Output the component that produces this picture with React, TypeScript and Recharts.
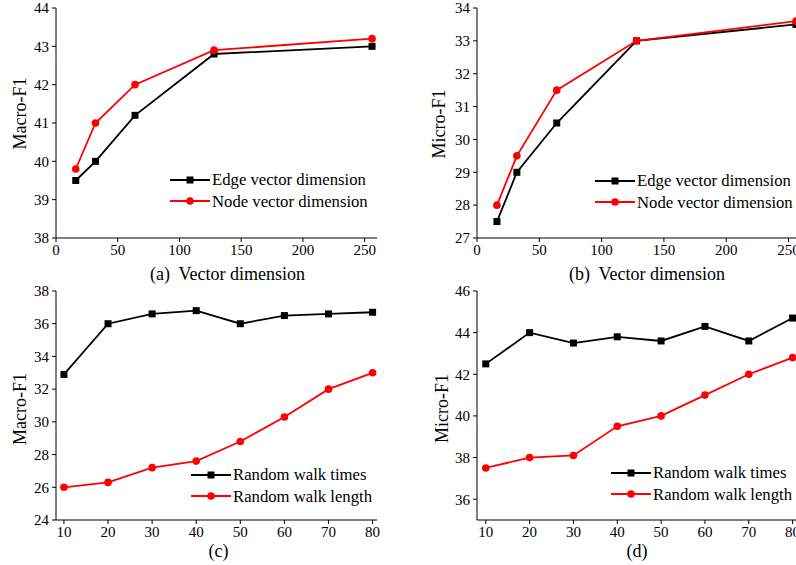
import React from 'react';
import { LineChart, Line, XAxis, YAxis, Legend } from 'recharts';

// vector dimension panels (a), (b)
const DIM_X = [16, 32, 64, 128, 256];
const EDGE_MACRO = [39.5, 40.0, 41.2, 42.8, 43.0];
const NODE_MACRO = [39.8, 41.0, 42.0, 42.9, 43.2];
const EDGE_MICRO = [27.5, 29.0, 30.5, 33.0, 33.5];
const NODE_MICRO = [28.0, 29.5, 31.5, 33.0, 33.6];

// random walk panels (c), (d)
const WALK_X = [10, 20, 30, 40, 50, 60, 70, 80];
const TIMES_MACRO = [32.9, 36.0, 36.6, 36.8, 36.0, 36.5, 36.6, 36.7];
const LENGTH_MACRO = [26.0, 26.3, 27.2, 27.6, 28.8, 30.3, 32.0, 33.0];
const TIMES_MICRO = [42.5, 44.0, 43.5, 43.8, 43.6, 44.3, 43.6, 44.7];
const LENGTH_MICRO = [37.5, 38.0, 38.1, 39.5, 40.0, 41.0, 42.0, 42.8];

// ticks
const DIM_TICKS = [0, 50, 100, 150, 200, 250];
const DIM_MINOR = [25, 75, 125, 175, 225];
const WALK_TICKS = [10, 20, 30, 40, 50, 60, 70, 80];
const WALK_MINOR = [15, 25, 35, 45, 55, 65, 75];
const A_TICKS = [38, 39, 40, 41, 42, 43, 44];
const A_MINOR = [38.5, 39.5, 40.5, 41.5, 42.5, 43.5];
const B_TICKS = [27, 28, 29, 30, 31, 32, 33, 34];
const B_MINOR = [27.5, 28.5, 29.5, 30.5, 31.5, 32.5, 33.5];
const C_TICKS = [24, 26, 28, 30, 32, 34, 36, 38];
const C_MINOR = [25, 27, 29, 31, 33, 35, 37];
const D_TICKS = [36, 38, 40, 42, 44, 46];
const D_MINOR = [37, 39, 41, 43, 45];

const DIM_NAMES = ['Edge vector dimension', 'Node vector dimension'];
const WALK_NAMES = ['Random walk times', 'Random walk length'];

const FONT = '"Liberation Serif", "Times New Roman", serif';
const BLACK = '#000000';
const RED = '#ff0000';

const buildRows = (xs: number[], s1: number[], s2: number[]) =>
  xs.map((x, i) => ({ x, first: s1[i], second: s2[i] }));

const SquareDot = (props: any) => {
  const { cx, cy, fill } = props;
  if (cx == null || cy == null) return <g />;
  return <rect x={cx - 3.5} y={cy - 3.5} width={7} height={7} fill={fill} />;
};

const LegendBox = (props: any) => {
  // keep series order (first, second) instead of alphabetical
  const items = [...(props.payload || [])].sort((a: any, b: any) =>
    String(a.dataKey).localeCompare(String(b.dataKey))
  );
  return (
    <div style={{ fontFamily: FONT, fontSize: 16.7, color: '#000' }}>
      {items.map((entry: any) => (
        <div
          key={entry.value}
          style={{ display: 'flex', alignItems: 'center', height: 21.5, whiteSpace: 'nowrap' }}
        >
          <svg width={42} height={12} style={{ flex: 'none' }}>
            <line x1={0} x2={40} y1={6} y2={6} stroke={entry.color} strokeWidth={2} />
            {entry.dataKey === 'first' ? (
              <rect x={16.5} y={2.5} width={7} height={7} fill={entry.color} />
            ) : (
              <circle cx={20} cy={6} r={3.8} fill={entry.color} />
            )}
          </svg>
          <span style={{ lineHeight: '17px' }}>{entry.value}</span>
        </div>
      ))}
    </div>
  );
};

interface PanelProps {
  left: number;
  top: number;
  width: number;
  height: number;
  marginTop: number;
  marginRight: number;
  yWidth: number;
  xHeight: number;
  rows: { x: number; first: number; second: number }[];
  names: string[];
  xDomain: [number, number];
  xTicks: number[];
  xMinor: number[];
  yDomain: [number, number];
  yTicks: number[];
  yMinor: number[];
  yLabel: string;
  yLabelDx: number;
  yLabelDy: number;
  caption: string;
  captionDx: number;
  captionOffset: number;
  legendLeft: number;
  legendTop: number;
}

const tickStyle = { fontSize: 15, fill: '#000', fontFamily: FONT };

const Panel: React.FC<PanelProps> = (p) => (
  <div style={{ position: 'absolute', left: p.left, top: p.top }}>
    <LineChart
      width={p.width}
      height={p.height}
      data={p.rows}
      margin={{ top: p.marginTop, right: p.marginRight, left: 0, bottom: 0 }}
    >
      {/* minor ticks first so they sit on the plot edge */}
      <XAxis
        xAxisId="xminor"
        type="number"
        dataKey="x"
        domain={p.xDomain}
        ticks={p.xMinor}
        interval={0}
        height={0}
        tick={false}
        tickSize={2}
        axisLine={false}
        tickLine={{ stroke: BLACK }}
        allowDataOverflow
      />
      <XAxis
        xAxisId="x"
        type="number"
        dataKey="x"
        domain={p.xDomain}
        ticks={p.xTicks}
        interval={0}
        height={p.xHeight}
        tick={tickStyle}
        tickSize={4}
        tickMargin={2}
        axisLine={{ stroke: BLACK }}
        tickLine={{ stroke: BLACK }}
        allowDataOverflow
        label={{
          value: p.caption,
          position: 'insideBottom',
          offset: p.captionOffset,
          dx: p.captionDx,
          fontSize: 18,
          fill: '#000',
          fontFamily: FONT,
        }}
      />
      <XAxis
        xAxisId="xtop"
        orientation="top"
        type="number"
        dataKey="x"
        domain={p.xDomain}
        height={0}
        tick={false}
        tickLine={false}
        axisLine={{ stroke: BLACK }}
        allowDataOverflow
      />
      <YAxis
        yAxisId="yminor"
        type="number"
        domain={p.yDomain}
        ticks={p.yMinor}
        interval={0}
        width={0}
        tick={false}
        tickSize={2}
        axisLine={false}
        tickLine={{ stroke: BLACK }}
        allowDataOverflow
      />
      <YAxis
        yAxisId="y"
        type="number"
        domain={p.yDomain}
        ticks={p.yTicks}
        interval={0}
        width={p.yWidth}
        tick={tickStyle}
        tickSize={4}
        tickMargin={3}
        axisLine={{ stroke: BLACK }}
        tickLine={{ stroke: BLACK }}
        allowDataOverflow
        label={{
          value: p.yLabel,
          angle: -90,
          position: 'center',
          dx: p.yLabelDx,
          dy: p.yLabelDy,
          fontSize: 18,
          fill: '#000',
          fontFamily: FONT,
        }}
      />
      <YAxis
        yAxisId="yright"
        orientation="right"
        type="number"
        domain={p.yDomain}
        width={0}
        tick={false}
        tickLine={false}
        axisLine={{ stroke: BLACK }}
        allowDataOverflow
      />
      <Legend
        layout="vertical"
        align="center"
        verticalAlign="middle"
        content={<LegendBox />}
        wrapperStyle={{ left: p.legendLeft, top: p.legendTop, width: 'auto' }}
      />
      <Line
        xAxisId="x"
        yAxisId="y"
        type="linear"
        dataKey="first"
        name={p.names[0]}
        stroke={BLACK}
        strokeWidth={1.8}
        dot={(d: any) => <SquareDot key={`sq-${d.index}`} cx={d.cx} cy={d.cy} fill={BLACK} />}
        activeDot={false}
        isAnimationActive={false}
      />
      <Line
        xAxisId="x"
        yAxisId="y"
        type="linear"
        dataKey="second"
        name={p.names[1]}
        stroke={RED}
        strokeWidth={1.8}
        dot={{ r: 3.8, fill: RED, stroke: RED, strokeWidth: 0 }}
        activeDot={false}
        isAnimationActive={false}
      />
    </LineChart>
  </div>
);

const App: React.FC = () => (
  <div
    style={{
      position: 'absolute',
      left: 0,
      top: 0,
      width: 796,
      height: 565,
      overflow: 'hidden',
      background: '#fff',
      fontFamily: FONT,
    }}
  >
    <Panel
      left={0}
      top={0}
      width={400}
      height={290}
      marginTop={8}
      marginRight={23}
      yWidth={56}
      xHeight={52}
      rows={buildRows(DIM_X, EDGE_MACRO, NODE_MACRO)}
      names={DIM_NAMES}
      xDomain={[0, 260]}
      xTicks={DIM_TICKS}
      xMinor={DIM_MINOR}
      yDomain={[38, 44]}
      yTicks={A_TICKS}
      yMinor={A_MINOR}
      yLabel="Macro-F1"
      yLabelDx={-8}
      yLabelDy={-9.5}
      caption={'(a)\u00a0 Vector dimension'}
      captionDx={11}
      captionOffset={10}
      legendLeft={170}
      legendTop={169}
    />
    <Panel
      left={400}
      top={0}
      width={401}
      height={290}
      marginTop={8}
      marginRight={0}
      yWidth={77}
      xHeight={52}
      rows={buildRows(DIM_X, EDGE_MICRO, NODE_MICRO)}
      names={DIM_NAMES}
      xDomain={[0, 260]}
      xTicks={DIM_TICKS}
      xMinor={DIM_MINOR}
      yDomain={[27, 34]}
      yTicks={B_TICKS}
      yMinor={B_MINOR}
      yLabel="Micro-F1"
      yLabelDx={0.5}
      yLabelDy={1}
      caption={'(b)\u00a0 Vector dimension'}
      captionDx={8}
      captionOffset={10}
      legendLeft={195}
      legendTop={170}
    />
    <Panel
      left={0}
      top={280}
      width={400}
      height={285}
      marginTop={11}
      marginRight={23}
      yWidth={56}
      xHeight={45}
      rows={buildRows(WALK_X, TIMES_MACRO, LENGTH_MACRO)}
      names={WALK_NAMES}
      xDomain={[8.2, 81]}
      xTicks={WALK_TICKS}
      xMinor={WALK_MINOR}
      yDomain={[24, 38]}
      yTicks={C_TICKS}
      yMinor={C_MINOR}
      yLabel="Macro-F1"
      yLabelDx={-8}
      yLabelDy={3.5}
      caption="(c)"
      captionDx={2}
      captionOffset={8}
      legendLeft={191}
      legendTop={184}
    />
    <Panel
      left={400}
      top={280}
      width={397}
      height={285}
      marginTop={11}
      marginRight={0}
      yWidth={77}
      xHeight={45}
      rows={buildRows(WALK_X, TIMES_MICRO, LENGTH_MICRO)}
      names={WALK_NAMES}
      xDomain={[8, 81]}
      xTicks={WALK_TICKS}
      xMinor={WALK_MINOR}
      yDomain={[35, 46]}
      yTicks={D_TICKS}
      yMinor={D_MINOR}
      yLabel="Micro-F1"
      yLabelDx={3}
      yLabelDy={3}
      caption="(d)"
      captionDx={0}
      captionOffset={8}
      legendLeft={211}
      legendTop={182}
    />
  </div>
);

export default App;
